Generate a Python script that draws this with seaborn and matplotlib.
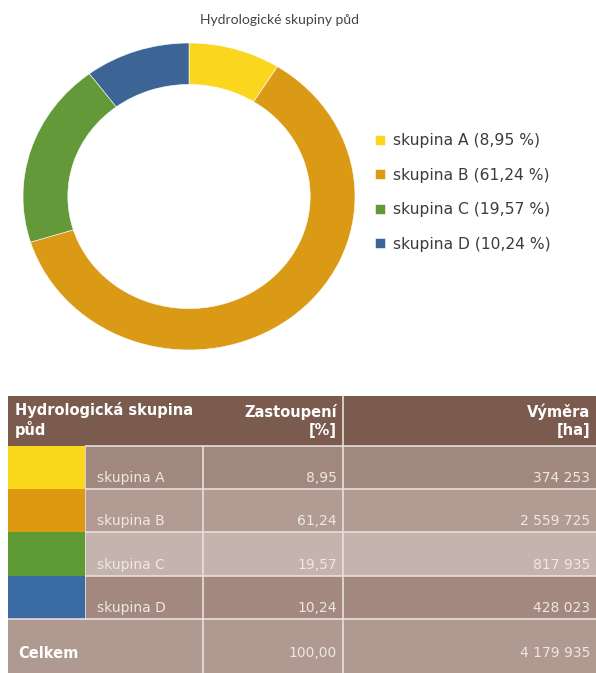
import seaborn as sns
import matplotlib.pyplot as plt

# data
groups = ["skupina A", "skupina B", "skupina C", "skupina D"]
shares = [8.95, 61.24, 19.57, 10.24]          # %
areas = [374253, 2559725, 817935, 428023]     # ha
total_share = 100.00
total_area = 4179935
title = "Hydrologické skupiny půd"
head_cols = ["Hydrologická skupina\npůd", "Zastoupení\n[%]", "Výměra\n[ha]"]
total_label = "Celkem"

group_colors = ["#FAD71E", "#DB9A16", "#64993A", "#3C6596"]
swatch_colors = ["#FAD81C", "#DD9A10", "#5E9B34", "#3A6AA2"]
row_colors = ["#A1887E", "#B29B92", "#C5B4AE", "#A2887E"]
head_color = "#7C5B4F"
total_color = "#B09990"
line_color = "#E8DFDB"


def cz_num(v, dec=2):
    return f"{v:.{dec}f}".replace(".", ",")


def cz_int(v):
    return f"{v:,}".replace(",", " ")


sns.set_theme(style="white")
plt.rcParams['font.family'] = ['DejaVu Sans']

W, H = 596, 673
fig = plt.figure(figsize=(W / 100, H / 100), dpi=100)

# ---- donut ----
ax = fig.add_axes([23 / W, 1 - 350 / H, 332 / W, 307 / H])
pal = sns.color_palette(group_colors)
wedges, _ = ax.pie(shares, colors=pal, startangle=90, counterclock=False,
                   wedgeprops=dict(width=0.27, edgecolor="white", linewidth=0.4))
ax.set_aspect("auto")
ax.set_xlim(-1, 1)
ax.set_ylim(-1, 1)

fig.text(280 / W, 1 - 20 / H, title, ha="center", va="center",
         fontsize=10, color="#444444", family="Lato")

labels = [f"{g} ({cz_num(s)} %)" for g, s in zip(groups, shares)]
fig.legend(wedges, labels, loc="center left", bbox_to_anchor=(375 / W, 1 - 192.5 / H),
           frameon=False, fontsize=11.2, labelcolor="#3C3C3C",
           handlelength=0.65, handleheight=0.6, handletextpad=0.5,
           labelspacing=1.25, borderpad=0, borderaxespad=0)

# ---- table ----
tab_top, tab_left = 396, 8
row_h = [50, 43, 43, 44, 43, 54]
col_edges = [0, 77, 195, 335, 588]
tw = col_edges[-1]
th = sum(row_h)

tax = fig.add_axes([tab_left / W, 0, tw / W, th / H])
tax.set_xlim(0, tw)
tax.set_ylim(th, 0)
tax.axis("off")

bounds = [0]
for h in row_h:
    bounds.append(bounds[-1] + h)

lefts = col_edges[:-1]
widths = [b - a for a, b in zip(col_edges[:-1], col_edges[1:])]

# header row
head_kw = dict(fontsize=10.5, fontweight="bold", color="white", linespacing=1.25)
tax.barh(bounds[0] + row_h[0] / 2, widths, left=lefts, height=row_h[0],
         color=head_color, linewidth=0)
tax.text(7, bounds[0] + 24, head_cols[0], ha="left", va="center", **head_kw)
tax.text(col_edges[3] - 6, bounds[0] + 25, head_cols[1], ha="right", va="center",
         multialignment="right", **head_kw)
tax.text(tw - 6, bounds[0] + 25, head_cols[2], ha="right", va="center",
         multialignment="right", **head_kw)

# group rows
txt_kw = dict(fontsize=10, color="#EEE7E3")
for i, (g, s, a) in enumerate(zip(groups, shares, areas)):
    r = i + 1
    yc = bounds[r] + row_h[r] / 2
    cols = [swatch_colors[i]] + [row_colors[i]] * 3
    tax.barh(yc, widths, left=lefts, height=row_h[r], color=cols, linewidth=0)
    yt = bounds[r + 1] - 11
    tax.text(col_edges[1] + 12, yt, g, ha="left", va="center", **txt_kw)
    tax.text(col_edges[3] - 6, yt, cz_num(s), ha="right", va="center", **txt_kw)
    tax.text(tw - 6, yt, cz_int(a), ha="right", va="center", **txt_kw)

# total row
r = len(groups) + 1
tax.barh(bounds[r] + row_h[r] / 2, widths, left=lefts, height=row_h[r],
         color=total_color, linewidth=0)
yt = bounds[r] + 34
tax.text(10, yt, total_label, ha="left", va="center", fontsize=10.5,
         fontweight="bold", color="white")
tax.text(col_edges[3] - 6, yt, cz_num(total_share), ha="right", va="center", **txt_kw)
tax.text(tw - 6, yt, cz_int(total_area), ha="right", va="center", **txt_kw)

# grid lines
tax.hlines(bounds[1:len(groups) + 1], col_edges[1], tw, color=line_color, lw=1.2)
tax.hlines(bounds[len(groups) + 1], 0, tw, color=line_color, lw=1.2)
tax.vlines(col_edges[2], bounds[1], th, color=line_color, lw=1.2)
tax.vlines(col_edges[3], 0, th, color=line_color, lw=1.2)
tax.vlines(col_edges[1], bounds[1], bounds[len(groups) + 1], color=line_color, lw=0.6)

fig.savefig("out.png", dpi=100)
